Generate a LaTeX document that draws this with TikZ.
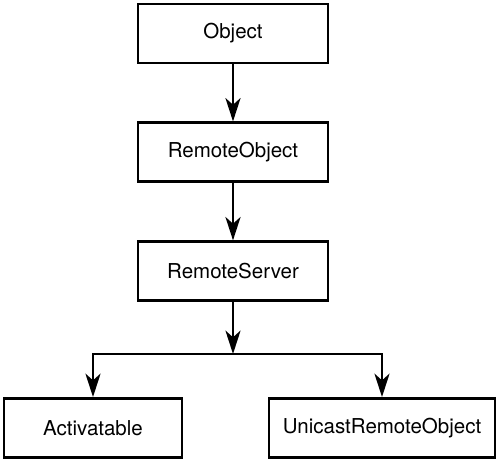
\documentclass[tikz,border=0pt]{standalone}
\usepackage{fontspec}
\setmainfont{TeX Gyre Heros}
\usepackage{tikz}
\usetikzlibrary{positioning,arrows.meta}

\begin{document}
\begin{tikzpicture}[
      caja/.style={draw=black,line width=2.5pt,minimum width=5.7cm,minimum height=1.77cm,
                   inner sep=0pt,font=\fontsize{17.5}{20}\selectfont},
      flecha/.style={-{Stealth[length=0.7cm,width=0.45cm,inset=0.2cm]},line width=2.5pt},
      node distance=1.71cm]
    \useasboundingbox (0,0) rectangle (15,-13.83);
    \node[caja] (obj) at (6.99,-1.005) {Object};
    \node[caja,below=of obj] (remobj) {RemoteObject};
    \node[caja,below=of remobj] (server) {RemoteServer};
    \node[caja,minimum width=5.34cm] (act) at (2.79,-12.84) {Activatable};
    \node[caja,minimum width=6.78cm] (uni) at (11.46,-12.84) {UnicastRemoteObject};
    \coordinate (junta) at (server.south |- 0,-10.62);
    \draw[flecha] (obj) -- (remobj);
    \draw[flecha] (remobj) -- (server);
    \draw[flecha] (server) -- (junta);
    \draw[flecha] (junta) -| (act.north);
    \draw[flecha] (junta) -| (uni.north);
  \end{tikzpicture}
\end{document}
